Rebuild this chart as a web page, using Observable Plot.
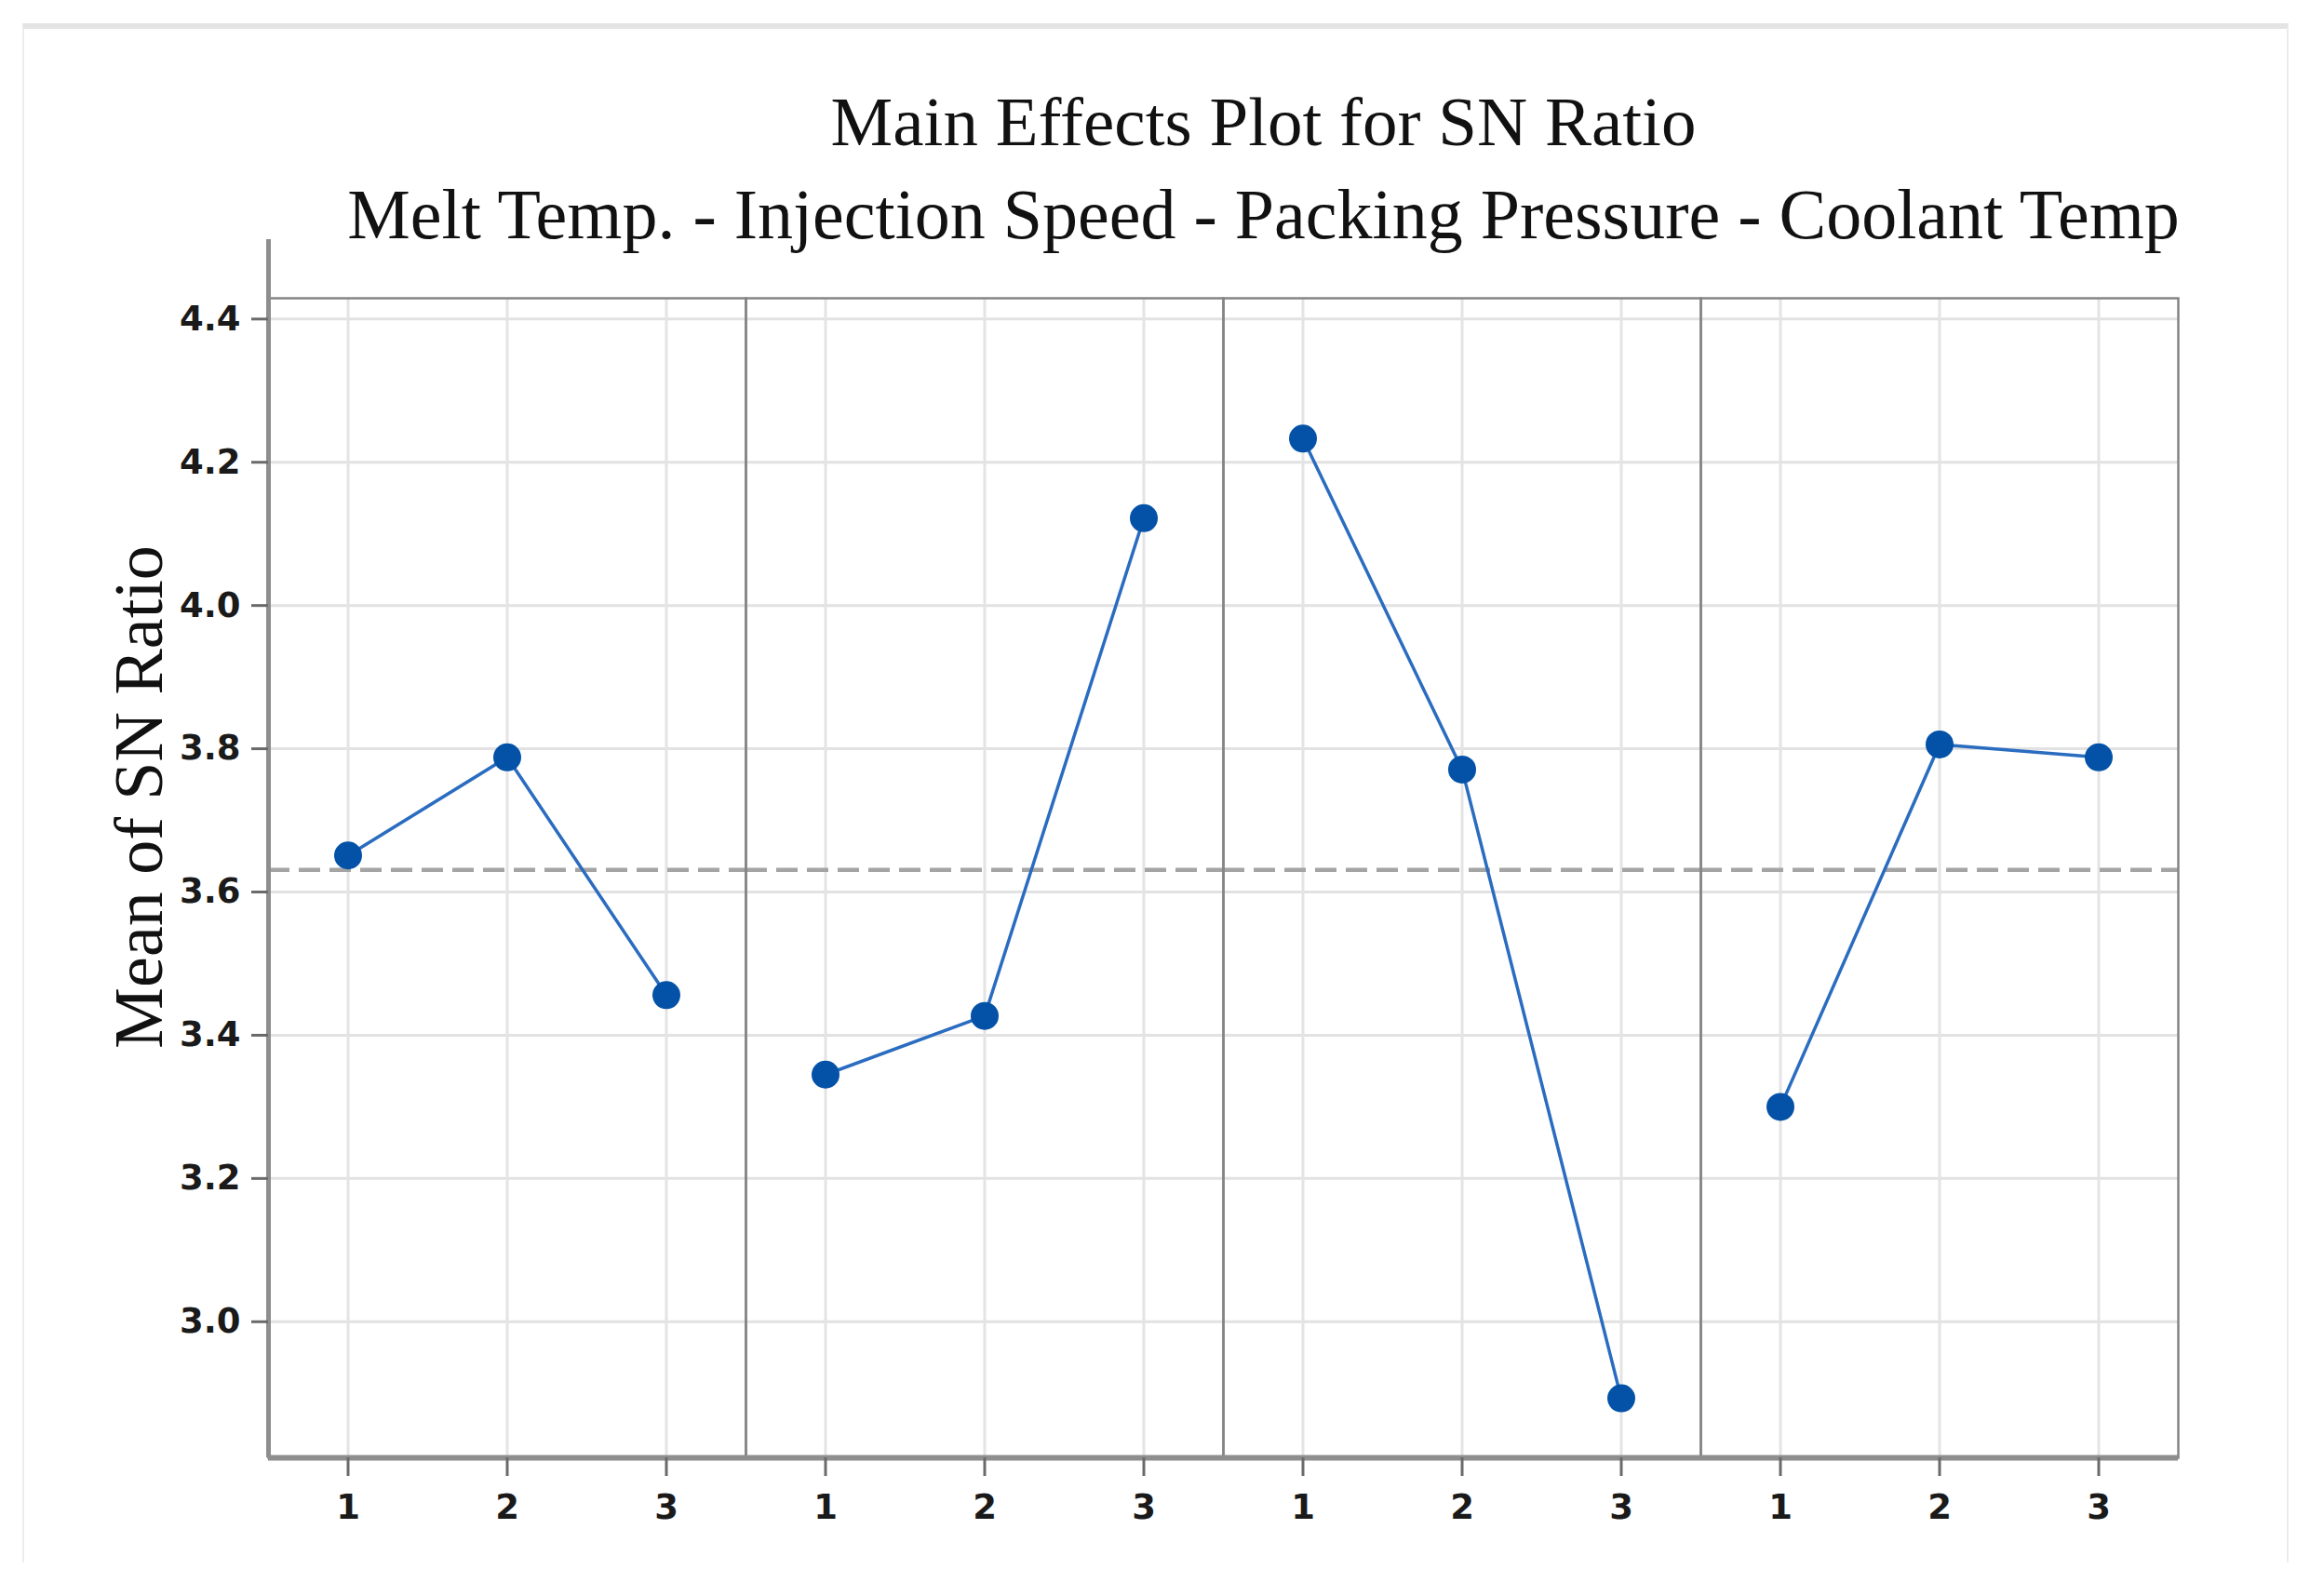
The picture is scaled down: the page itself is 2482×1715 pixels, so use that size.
<!DOCTYPE html>
<html>
<head>
<meta charset="utf-8">
<script src="https://cdn.jsdelivr.net/npm/d3@7"></script>
<script src="https://cdn.jsdelivr.net/npm/@observablehq/plot@0.6"></script>
<style>
  html, body { margin: 0; padding: 0; background: #ffffff; overflow: hidden; }
  #wrap { position: relative; width: 2482px; height: 1715px; }
  #border { position: absolute; left: 24px; top: 25px; width: 2431px; height: 1648px;
            border-top: 6px solid #e4e4e4; border-left: 2px solid #ececec; border-right: 2px solid #ececec; }
  #wrap svg { position: absolute; left: 0; top: 0; }
</style>
</head>
<body>
<div id="wrap"><div id="border"></div></div>
<script>
// ---- data ----
const factors = ["Melt Temp.", "Injection Speed", "Packing Pressure", "Coolant Temp"];
const levels = [1, 2, 3];
const meltTemp = [3.651, 3.788, 3.456];
const injectionSpeed = [3.345, 3.427, 4.122];
const packingPressure = [4.233, 3.771, 2.893];
const coolantTemp = [3.300, 3.806, 3.788];
const grandMean = 3.631;
const yTicks = [3.0, 3.2, 3.4, 3.6, 3.8, 4.0, 4.2, 4.4];
const xTicks = [1, 2, 3];
const titleText = "Main Effects Plot for SN Ratio";
const subtitleText = "Melt Temp. - Injection Speed - Packing Pressure - Coolant Temp";
const yLabelText = "Mean of SN Ratio";

const yDomain = [2.81, 4.429];
const xDomain = [0.5, 3.5];

const series = [meltTemp, injectionSpeed, packingPressure, coolantTemp];
const rows = [];
factors.forEach((f, i) => levels.forEach((lv, j) => rows.push({factor: f, level: lv, value: series[i][j]})));

const serif = "Liberation Serif, Times New Roman, serif";
const sans = "DejaVu Sans, Verdana, sans-serif";
const axisGray = "#8e8e8e";

const chart = Plot.plot({
  width: 2482,
  height: 1715,
  marginLeft: 287,
  marginRight: 141,
  marginTop: 320,
  marginBottom: 149,
  style: {fontFamily: sans, fontSize: "37px", fontWeight: "bold", background: "transparent", color: "#1a1a1a"},
  fx: {domain: factors, paddingInner: 0, paddingOuter: 0, axis: null},
  x: {domain: xDomain},
  y: {domain: yDomain},
  marks: [
    Plot.gridY(yTicks, {stroke: "#e2e2e2", strokeOpacity: 1, strokeWidth: 3}),
    Plot.gridX(xTicks, {stroke: "#e4e4e4", strokeOpacity: 1, strokeWidth: 3}),
    Plot.ruleY([grandMean], {stroke: "#a4a4a4", strokeWidth: 4.5, strokeDasharray: "23 10"}),
    Plot.frame({stroke: "#858585", strokeWidth: 2.5}),
    Plot.line(rows, {fx: "factor", x: "level", y: "value", stroke: "#2a6cc0", strokeWidth: 3.5}),
    Plot.dot(rows, {fx: "factor", x: "level", y: "value", r: 15, fill: "#0452a8", stroke: "none"}),
    Plot.ruleY([yDomain[0]], {stroke: axisGray, strokeWidth: 6}),
    Plot.ruleX([{factor: factors[0], x: xDomain[0]}], {fx: "factor", x: "x", stroke: axisGray, strokeWidth: 5, insetTop: -63}),
    Plot.axisY(yTicks, {tickFormat: d => d.toFixed(1), tickSize: 18, tickPadding: 12, stroke: "#6a6a6a", strokeWidth: 3, label: null, fontWeight: "bold", fontSize: 37, fill: "#1a1a1a"}),
    Plot.axisX(xTicks, {tickFormat: d => String(d), tickSize: 20, tickPadding: 19, stroke: "#6a6a6a", strokeWidth: 3, label: null, fontWeight: "bold", fontSize: 37, fill: "#1a1a1a"}),
    Plot.text([titleText], {fx: () => factors[2], text: d => d, frameAnchor: "top-left", dx: 43, dy: -165, textAnchor: "middle", lineAnchor: "bottom", fontFamily: serif, fontSize: 75, fontWeight: "normal", fill: "#111"}),
    Plot.text([subtitleText], {fx: () => factors[2], text: d => d, frameAnchor: "top-left", dx: 43, dy: -65, textAnchor: "middle", lineAnchor: "bottom", fontFamily: serif, fontSize: 76, fontWeight: "normal", fill: "#111"}),
    Plot.text([yLabelText], {fx: () => factors[0], text: d => d, frameAnchor: "left", rotate: -90, dx: -115, dy: -87, textAnchor: "middle", lineAnchor: "bottom", fontFamily: serif, fontSize: 74, fontWeight: "normal", fill: "#111"})
  ]
});
document.getElementById("wrap").appendChild(chart);
</script>
</body>
</html>
